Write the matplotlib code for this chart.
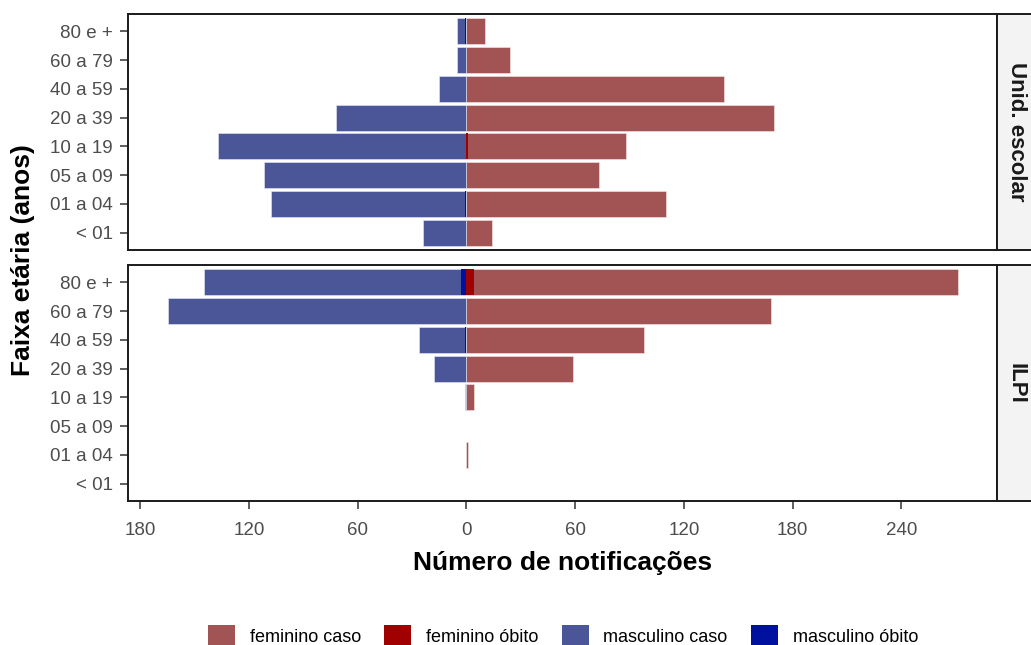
import numpy as np
import matplotlib

matplotlib.use("Agg")
import matplotlib.pyplot as plt
from matplotlib.patches import Patch

plt.rcParams["font.family"] = ["Liberation Sans", "DejaVu Sans"]

faixas = ["< 01", "01 a 04", "05 a 09", "10 a 19", "20 a 39", "40 a 59", "60 a 79", "80 e +"]
locais = ["Unid. escolar", "ILPI"]

# notificações por faixa etária (mesma ordem de faixas)
escolar_fem_caso = [14, 110, 73, 88, 170, 142, 24, 10]
escolar_fem_obito = [0, 0, 0, 1, 0, 0, 0, 0]
escolar_masc_caso = [24, 108, 112, 137, 72, 15, 5, 5]
escolar_masc_obito = [0, 1, 0, 0, 0, 0, 0, 1]

ilpi_fem_caso = [0, 1, 0, 4, 59, 98, 168, 271]
ilpi_fem_obito = [0, 0, 0, 0, 0, 0, 0, 4]
ilpi_masc_caso = [0, 0, 0, 1, 18, 26, 165, 145]
ilpi_masc_obito = [0, 0, 0, 0, 0, 1, 0, 3]

x_ticks = [-180, -120, -60, 0, 60, 120, 180, 240]

cores = {
    "feminino caso": "#A15453",
    "feminino óbito": "#A00000",
    "masculino caso": "#4B5699",
    "masculino óbito": "#0011A0",
}

W, H = 1031, 645


def barras(ax, y, valores, cor, borda=None, sinal=1):
    v = np.array(valores)
    ok = v != 0  # faixa sem notificação não desenha nada
    if borda is None:
        ax.barh(y[ok], sinal * v[ok], height=0.9, color=cor, linewidth=0)
    else:
        ax.barh(y[ok], sinal * v[ok], height=0.9, color=cor, edgecolor=borda, linewidth=0.4)


def painel(ax, fem_caso, fem_obito, masc_caso, masc_obito):
    y = np.arange(len(faixas))
    barras(ax, y, fem_caso, cores["feminino caso"], "#f4e8e8")
    barras(ax, y, masc_caso, cores["masculino caso"], "#e8eaf4", sinal=-1)
    barras(ax, y, fem_obito, cores["feminino óbito"])
    barras(ax, y, masc_obito, cores["masculino óbito"], sinal=-1)

    lo = -max(max(escolar_masc_caso), max(ilpi_masc_caso))
    hi = max(max(escolar_fem_caso), max(ilpi_fem_caso))
    pad = 0.05 * (hi - lo)
    ax.set_xlim(lo - pad, hi + pad)
    ax.set_ylim(-0.6, len(faixas) - 0.4)
    ax.set_yticks(y)
    ax.set_yticklabels(faixas)
    ax.set_xticks(x_ticks)
    ax.set_xticklabels([str(abs(v)) for v in x_ticks])
    ax.tick_params(axis="both", labelsize=13.5, labelcolor="#4d4d4d", color="#333333",
                   length=6, width=1.1)
    ax.tick_params(axis="y", pad=5)
    ax.tick_params(axis="x", pad=9)
    for s in ax.spines.values():
        s.set_color("#1a1a1a")
        s.set_linewidth(1.4)


def faixa_lateral(fig, rect, texto):
    sax = fig.add_axes(rect)
    sax.set_facecolor("#f3f3f3")
    sax.set_xticks([])
    sax.set_yticks([])
    for s in sax.spines.values():
        s.set_color("#1a1a1a")
        s.set_linewidth(1.4)
    sax.text(0.44, 0.5, texto, rotation=-90, ha="center", va="center",
             fontsize=16, fontweight="bold", color="#1a1a1a", transform=sax.transAxes)


def plotDraw():
    fig = plt.figure(figsize=(W / 100, H / 100), dpi=100)

    left, right = 128, 997
    topos = [(14, 250), (265, 501)]
    dados = [
        (escolar_fem_caso, escolar_fem_obito, escolar_masc_caso, escolar_masc_obito),
        (ilpi_fem_caso, ilpi_fem_obito, ilpi_masc_caso, ilpi_masc_obito),
    ]

    axes = []
    for (t, b), d, nome in zip(topos, dados, locais):
        ax = fig.add_axes([left / W, 1 - b / H, (right - left) / W, (b - t) / H])
        painel(ax, *d)
        axes.append(ax)
        faixa_lateral(fig, [right / W, 1 - b / H, 44 / W, (b - t) / H], nome)

    axes[0].tick_params(axis="x", bottom=False, labelbottom=False)
    axes[1].set_xlabel("Número de notificações", fontsize=19, fontweight="bold", labelpad=9)

    fig.text(23 / W, 1 - 260 / H, "Faixa etária (anos)", rotation=90, ha="center", va="center",
             fontsize=19, fontweight="bold")

    handles = [Patch(facecolor=c, edgecolor="none") for c in cores.values()]
    fig.legend(handles, list(cores.keys()), loc="center", bbox_to_anchor=(563 / W, 1 - 636 / H),
               ncol=4, frameon=False, fontsize=13, handlelength=1.5, handleheight=1.5,
               handletextpad=0.8, columnspacing=1.3)

    fig.savefig("out.png", dpi=100)


if __name__ == "__main__":
    plotDraw()
